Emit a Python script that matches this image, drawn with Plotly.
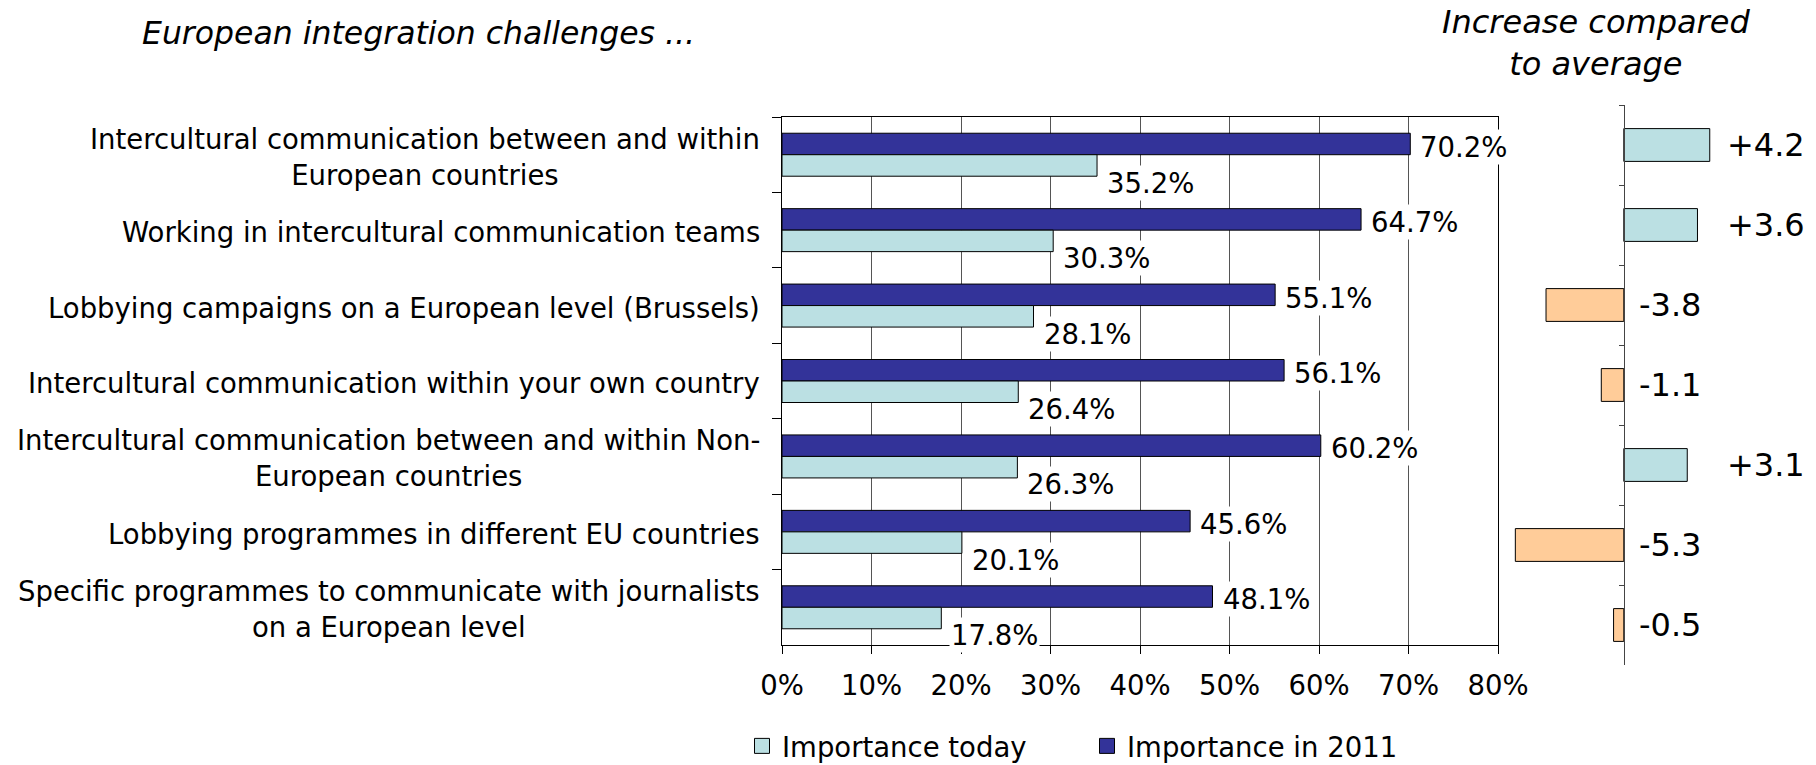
import plotly.graph_objects as go

# ---- data -------------------------------------------------------------
challenges = [
    "Intercultural communication between and within<br>European countries",
    "Working in intercultural communication teams",
    "Lobbying campaigns on a European level (Brussels)",
    "Intercultural communication within your own country",
    "Intercultural communication between and within Non-<br>European countries",
    "Lobbying programmes in different EU countries",
    "Specific programmes to communicate with journalists<br>on a European level",
]
importance_today = [35.2, 30.3, 28.1, 26.4, 26.3, 20.1, 17.8]
importance_2011 = [70.2, 64.7, 55.1, 56.1, 60.2, 45.6, 48.1]
increase_vs_average = [4.2, 3.6, -3.8, -1.1, 3.1, -5.3, -0.5]

x_tick_values = [0, 10, 20, 30, 40, 50, 60, 70, 80]
x_tick_labels = ["0%", "10%", "20%", "30%", "40%", "50%", "60%", "70%", "80%"]

# ---- styling ----------------------------------------------------------
W, H = 1816, 765
FONT = "Verdana, DejaVu Sans, sans-serif"
FS = 27.5
DARK = "#333399"
LIGHT = "#BBE0E3"
PEACH = "#FFCC99"


def fx(px):
    return px / W


def fy(px):
    return 1 - px / H


left_x_dom = [fx(782), fx(1498)]
left_y_dom = [fy(645), fy(117)]
right_range = [-6, 9]
right_x_dom = [fx(1501), fx(1808)]
right_y_dom = [fy(665), fy(105)]
zero_pos = right_x_dom[0] + (0 - right_range[0]) / (right_range[1] - right_range[0]) * (
    right_x_dom[1] - right_x_dom[0]
)
# categories top to bottom: fixed category range so labels don't pad the axis
cat_range = [len(challenges) - 0.5, -0.5]

fig = go.Figure()

fig.add_trace(go.Bar(
    y=challenges, x=importance_2011, orientation="h", name="Importance in 2011",
    marker=dict(color=DARK, line=dict(color="black", width=1)),
    showlegend=False, xaxis="x", yaxis="y",
))
fig.add_trace(go.Bar(
    y=challenges, x=importance_today, orientation="h", name="Importance today",
    marker=dict(color=LIGHT, line=dict(color="black", width=1)),
    showlegend=False, xaxis="x", yaxis="y",
))

fig.add_trace(go.Bar(
    y=challenges, x=increase_vs_average, orientation="h", showlegend=False,
    marker=dict(color=[LIGHT if v > 0 else PEACH for v in increase_vs_average],
                line=dict(color="black", width=1)),
    width=0.41, xaxis="x2", yaxis="y2",
))

# legend entries with square swatches
for name, color in [("Importance today", LIGHT), ("Importance in 2011", DARK)]:
    fig.add_trace(go.Scatter(
        x=[None], y=[None], mode="markers", name=name,
        marker=dict(symbol="square", size=15, color=color, line=dict(color="black", width=1)),
        xaxis="x", yaxis="y", hoverinfo="skip",
    ))

annotations = []

# category labels, right-aligned block with centred lines
for cat in challenges:
    annotations.append(dict(
        x=left_x_dom[0], xref="paper", xanchor="right", xshift=-20,
        y=cat, yref="y", yanchor="middle", yshift=-2,
        text=cat, align="center", showarrow=False,
        font=dict(family=FONT, size=FS, color="black"),
    ))

# value labels
for cat, v_now, v_old in zip(challenges, importance_today, importance_2011):
    annotations.append(dict(
        x=v_old, xref="x", xanchor="left", xshift=8,
        y=cat, yref="y", yanchor="middle", yshift=8,
        text=f"{v_old:.1f}%", showarrow=False, bgcolor="white", borderpad=1,
        font=dict(family=FONT, size=FS, color="black"),
    ))
    annotations.append(dict(
        x=v_now, xref="x", xanchor="left", xshift=8,
        y=cat, yref="y", yanchor="middle", yshift=-28,
        text=f"{v_now:.1f}%", showarrow=False, bgcolor="white", borderpad=1,
        font=dict(family=FONT, size=FS, color="black"),
    ))

pos_label_x = max(increase_vs_average) + 0.75
for cat, d in zip(challenges, increase_vs_average):
    annotations.append(dict(
        x=pos_label_x if d > 0 else 0, xref="x2", xanchor="left",
        xshift=0 if d > 0 else 13,
        y=cat, yref="y2", yanchor="middle",
        text=f"{d:+.1f}", showarrow=False,
        font=dict(family=FONT, size=32, color="black"),
    ))

# panel titles
annotations.append(dict(
    x=fx(418), xref="paper", xanchor="center", y=fy(33), yref="paper", yanchor="middle",
    text="<i>European integration challenges ...</i>", showarrow=False,
    font=dict(family=FONT, size=31.5, color="black"),
))
annotations.append(dict(
    x=fx(1596), xref="paper", xanchor="center", y=fy(43), yref="paper", yanchor="middle",
    text="<i>Increase compared<br>to average</i>", showarrow=False, align="center",
    font=dict(family=FONT, size=32, color="black"),
))

fig.update_layout(
    width=W, height=H,
    margin=dict(l=0, r=0, t=0, b=0, autoexpand=False),
    paper_bgcolor="white", plot_bgcolor="white",
    barmode="group", bargap=0.43, bargroupgap=0,
    font=dict(family=FONT, size=FS, color="black"),
    xaxis=dict(
        domain=left_x_dom, range=[0, 80], tickvals=x_tick_values, ticktext=x_tick_labels,
        ticks="outside", ticklen=8, tickcolor="black", showline=True, linecolor="black",
        mirror=True, showgrid=True, gridcolor="#555555", gridwidth=1, zeroline=False,
        tickfont=dict(family=FONT, size=FS, color="black"), anchor="y",
        ticklabelstandoff=8,
    ),
    yaxis=dict(
        domain=left_y_dom, type="category", range=cat_range, anchor="x",
        showline=True, linecolor="black", mirror=True, ticks="outside",
        tickson="boundaries", ticklen=9, tickcolor="black", showticklabels=False,
        showgrid=False, zeroline=False,
    ),
    xaxis2=dict(
        domain=right_x_dom, range=right_range, visible=False, anchor="y2",
    ),
    yaxis2=dict(
        domain=right_y_dom, type="category", range=cat_range,
        anchor="free", position=zero_pos,
        showline=True, linecolor="#444444", ticks="outside", tickson="boundaries",
        ticklen=5, tickcolor="#444444", showticklabels=False, showgrid=False, zeroline=False,
    ),
    legend=dict(
        orientation="h", x=fx(742), xanchor="left", y=fy(746), yanchor="middle",
        font=dict(family=FONT, size=FS, color="black"), traceorder="normal",
        entrywidth=300, entrywidthmode="pixels",
    ),
    annotations=annotations,
)

fig.write_html("out.html")
